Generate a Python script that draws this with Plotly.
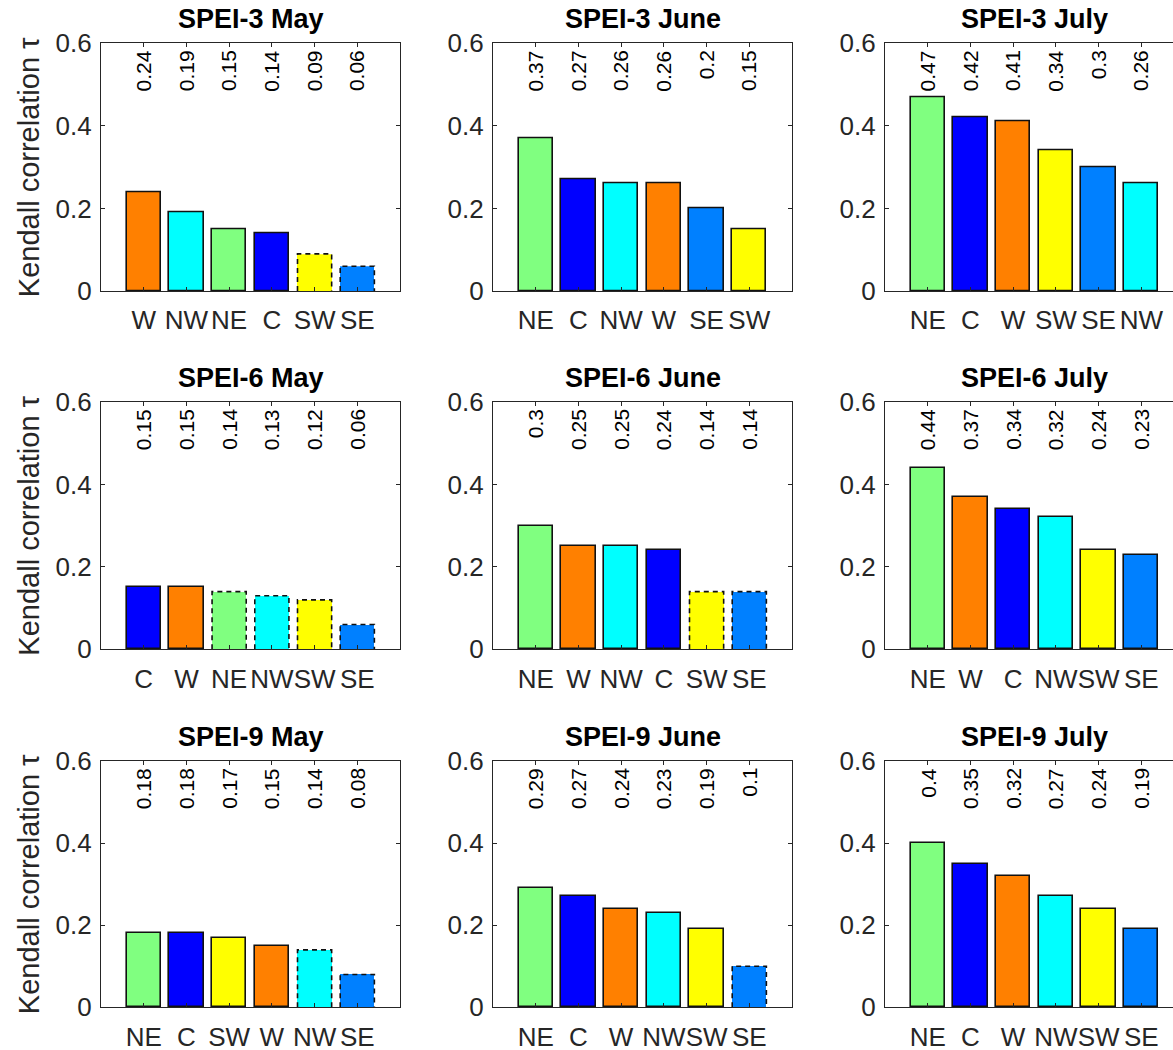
import plotly.graph_objects as go

# ---------------- data ----------------
# SPEI-3
spei3_may_regions = ["W", "NW", "NE", "C", "SW", "SE"]
spei3_may_tau = [0.24, 0.19, 0.15, 0.14, 0.09, 0.06]
spei3_may_nonsig = ["SW", "SE"]

spei3_june_regions = ["NE", "C", "NW", "W", "SE", "SW"]
spei3_june_tau = [0.37, 0.27, 0.26, 0.26, 0.2, 0.15]
spei3_june_nonsig = []

spei3_july_regions = ["NE", "C", "W", "SW", "SE", "NW"]
spei3_july_tau = [0.47, 0.42, 0.41, 0.34, 0.3, 0.26]
spei3_july_nonsig = []

# SPEI-6
spei6_may_regions = ["C", "W", "NE", "NW", "SW", "SE"]
spei6_may_tau = [0.15, 0.15, 0.14, 0.13, 0.12, 0.06]
spei6_may_nonsig = ["NE", "NW", "SW", "SE"]

spei6_june_regions = ["NE", "W", "NW", "C", "SW", "SE"]
spei6_june_tau = [0.3, 0.25, 0.25, 0.24, 0.14, 0.14]
spei6_june_nonsig = ["SW", "SE"]

spei6_july_regions = ["NE", "W", "C", "NW", "SW", "SE"]
spei6_july_tau = [0.44, 0.37, 0.34, 0.32, 0.24, 0.23]
spei6_july_nonsig = []

# SPEI-9
spei9_may_regions = ["NE", "C", "SW", "W", "NW", "SE"]
spei9_may_tau = [0.18, 0.18, 0.17, 0.15, 0.14, 0.08]
spei9_may_nonsig = ["NW", "SE"]

spei9_june_regions = ["NE", "C", "W", "NW", "SW", "SE"]
spei9_june_tau = [0.29, 0.27, 0.24, 0.23, 0.19, 0.1]
spei9_june_nonsig = ["SE"]

spei9_july_regions = ["NE", "C", "W", "NW", "SW", "SE"]
spei9_july_tau = [0.4, 0.35, 0.32, 0.27, 0.24, 0.19]
spei9_july_nonsig = []

y_ticks = [0, 0.2, 0.4, 0.6]
y_tick_text = ["0", "0.2", "0.4", "0.6"]
y_label = "Kendall correlation τ"

panels = [
    ("SPEI-3 May", spei3_may_regions, spei3_may_tau, spei3_may_nonsig),
    ("SPEI-3 June", spei3_june_regions, spei3_june_tau, spei3_june_nonsig),
    ("SPEI-3 July", spei3_july_regions, spei3_july_tau, spei3_july_nonsig),
    ("SPEI-6 May", spei6_may_regions, spei6_may_tau, spei6_may_nonsig),
    ("SPEI-6 June", spei6_june_regions, spei6_june_tau, spei6_june_nonsig),
    ("SPEI-6 July", spei6_july_regions, spei6_july_tau, spei6_july_nonsig),
    ("SPEI-9 May", spei9_may_regions, spei9_may_tau, spei9_may_nonsig),
    ("SPEI-9 June", spei9_june_regions, spei9_june_tau, spei9_june_nonsig),
    ("SPEI-9 July", spei9_july_regions, spei9_july_tau, spei9_july_nonsig),
]

# ---------------- style ----------------
region_colors = {
    "NE": "#80FF80",
    "C": "#0000FF",
    "NW": "#00FFFF",
    "W": "#FF8000",
    "SW": "#FFFF00",
    "SE": "#0080FF",
}

W, H = 1173, 1050
FONT = "Liberation Sans, Arial, Helvetica, sans-serif"
AX_COLOR = "#262626"
BAR_W = 0.8
XMAX = 7.0

# pixel geometry of axes boxes
col_px = [(101, 400), (493, 792), (885, 1184)]
row_px = [(43.3, 291.0), (402.0, 649.3), (761.0, 1007.3)]

fig = go.Figure()
annotations = []

for k, (title, regions, tau, nonsig) in enumerate(panels):
    r, c = divmod(k, 3)
    sfx = "" if k == 0 else str(k + 1)
    xa, ya = "x" + sfx, "y" + sfx
    xs = list(range(1, len(regions) + 1))

    x0p, x1p = col_px[c]
    x1_vis = min(x1p, W)
    xrange_max = XMAX * (x1_vis - x0p) / (x1p - x0p)
    y0p, y1p = row_px[r]

    fig.add_trace(go.Bar(
        x=xs, y=tau, width=BAR_W,
        marker=dict(
            color=[region_colors[g] for g in regions],
            line=dict(color="#111111",
                      width=[0 if g in nonsig else 1.6 for g in regions]),
        ),
        xaxis=xa, yaxis=ya, showlegend=False,
    ))

    # dashed outlines for non-significant bars
    dx, dy = [], []
    for xi, g, v in zip(xs, regions, tau):
        if g in nonsig:
            dx += [xi - BAR_W / 2, xi - BAR_W / 2, xi + BAR_W / 2, xi + BAR_W / 2, None]
            dy += [0, v, v, 0, None]
    if dx:
        fig.add_trace(go.Scatter(
            x=dx, y=dy, mode="lines",
            line=dict(color="#111111", width=1.6, dash="5px,4px"),
            xaxis=xa, yaxis=ya, showlegend=False, hoverinfo="skip",
        ))

    fig.layout["xaxis" + sfx] = dict(
        domain=[x0p / W, x1_vis / W],
        range=[0, xrange_max],
        anchor=ya, automargin=False,
        tickmode="array", tickvals=xs, ticktext=regions, tickangle=0,
        ticks="inside", ticklen=4, tickwidth=1, tickcolor=AX_COLOR,
        showline=True, linecolor=AX_COLOR, linewidth=1.3,
        mirror="ticks",
        showgrid=False, zeroline=False,
        tickfont=dict(family=FONT, size=26, color=AX_COLOR),
        ticklabelstandoff=6,
    )
    fig.layout["yaxis" + sfx] = dict(
        domain=[1 - y1p / H, 1 - y0p / H],
        range=[0, 0.6],
        anchor=xa, automargin=False,
        tickmode="array", tickvals=y_ticks, ticktext=y_tick_text,
        ticks="inside", ticklen=4, tickwidth=1, tickcolor=AX_COLOR,
        showline=True, linecolor=AX_COLOR, linewidth=1.3,
        mirror="ticks" if x1p <= W else False,
        showgrid=False, zeroline=False,
        tickfont=dict(family=FONT, size=26, color=AX_COLOR),
        ticklabelstandoff=3,
    )

    # panel title
    annotations.append(dict(
        text="<b>" + title + "</b>", x=XMAX / 2, xref=xa, y=1, yref=ya + " domain",
        xanchor="center", yanchor="bottom", yshift=7, showarrow=False,
        font=dict(family=FONT, size=27, color="black"),
    ))

    # value labels, rotated
    for xi, v in zip(xs, tau):
        annotations.append(dict(
            text=f"{v:g}", x=xi, xref=xa, y=0.6, yref=ya,
            xanchor="center", yanchor="top", yshift=-5, xshift=0,
            textangle=-90, showarrow=False,
            font=dict(family=FONT, size=21, color="black"),
        ))

    if c == 0:
        annotations.append(dict(
            text=y_label, x=29 / W, xref="paper", y=0.5, yref=ya + " domain",
            xanchor="center", yanchor="middle", textangle=-90, showarrow=False,
            font=dict(family=FONT, size=29, color=AX_COLOR),
        ))

fig.update_layout(
    width=W, height=H,
    margin=dict(l=0, r=0, t=0, b=0, autoexpand=False),
    paper_bgcolor="white", plot_bgcolor="white",
    bargap=0, annotations=annotations,
)

fig.write_html(
    "out.html",
    config={"displayModeBar": False},
    post_script="document.documentElement.style.margin='0';"
                "document.body.style.margin='0';"
                "document.body.style.overflow='hidden';",
)
